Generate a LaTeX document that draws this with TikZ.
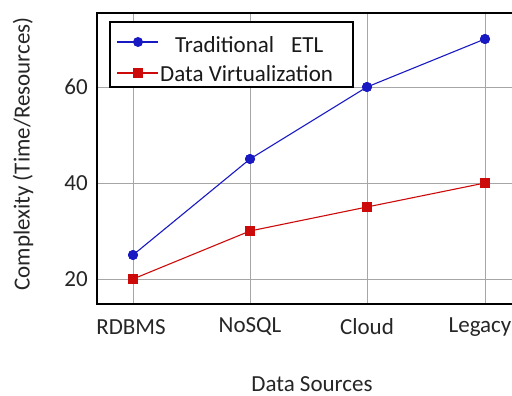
\documentclass[tikz,border=0pt]{standalone}
\usepackage{fontspec}
\setmainfont{Carlito}
\begin{document}
\begin{tikzpicture}[x=1pt,y=-1pt,
  gridline/.style={draw=black!35,line width=0.8pt},
  axisframe/.style={draw=black,line width=1.6pt},
  etlline/.style={draw=etlblue,line width=1.1pt},
  dvline/.style={draw=dvred,line width=1.1pt},
  etlmark/.style={circle,fill=etlblue,inner sep=0pt,minimum size=10pt},
  dvmark/.style={rectangle,fill=dvred,inner sep=0pt,minimum size=10pt},
  ticklabel/.style={font=\fontsize{23}{26}\selectfont,text=black!85,inner sep=0pt},
  axislabel/.style={font=\fontsize{23}{26}\selectfont,text=black!85,inner sep=0pt},
  legendtext/.style={font=\fontsize{23}{26}\selectfont,anchor=west,text=black!90,inner sep=0pt}]
\definecolor{etlblue}{RGB}{25,25,195}
\definecolor{dvred}{RGB}{205,10,10}
\useasboundingbox (0,0) rectangle (512,396);
\fill[white] (0,0) rectangle (512,396);

% value -> vertical position: y = 279 - (v-20)*4.8 ; columns at 133,250,367,485
% grid
\foreach \xx in {133,250,367,485} \draw[gridline] (\xx,13) -- (\xx,304);
\foreach \yy in {87,183,279} \draw[gridline] (97,\yy) -- (512,\yy);

% frame (right side runs past the page edge)
\draw[axisframe] (530,13) -- (97,13) -- (97,304) -- (530,304);

% tick labels
\node[ticklabel,anchor=east] (y60) at (88,87) {60};
\node[ticklabel,anchor=east] (y40) at (88,183) {40};
\node[ticklabel,anchor=east] (y20) at (88,279) {20};
\node[ticklabel] (xr) at (131,327) {RDBMS};
\node[ticklabel] (xn) at (250,327) {NoSQL};
\node[ticklabel] (xc) at (367,327) {Cloud};
\node[ticklabel] (xl) at (480,327) {Legacy};

% axis titles
\node[axislabel,rotate=90] (ytitle) at (23,154) {Complexity (Time/Resources)};
\node[axislabel] (xtitle) at (312,384) {Data Sources};

% Traditional ETL series
\node[etlmark] (e1) at (133,255) {};
\node[etlmark] (e2) at (250,159) {};
\node[etlmark] (e3) at (367,87) {};
\node[etlmark] (e4) at (485,39) {};
\draw[etlline] (e1.center) -- (e2.center) -- (e3.center) -- (e4.center);
\foreach \n in {e1,e2,e3,e4} \node[etlmark] at (\n) {};

% Data Virtualization series
\node[dvmark] (d1) at (133,279) {};
\node[dvmark] (d2) at (250,231) {};
\node[dvmark] (d3) at (367,207) {};
\node[dvmark] (d4) at (485,183) {};
\draw[dvline] (d1.center) -- (d2.center) -- (d3.center) -- (d4.center);
\foreach \n in {d1,d2,d3,d4} \node[dvmark] at (\n) {};

% legend
\draw[draw=black,line width=1.4pt,fill=white] (110,22) rectangle (353,87);
\coordinate (la) at (117,42);
\coordinate (lb) at (158,42);
\draw[etlline] (la) -- (lb);
\node[etlmark] (lm1) at (138,42) {};
\node[legendtext] (lt1) at (175,45) {Traditional\hspace{17pt}ETL};
\coordinate (lc) at (117,73);
\coordinate (ld) at (158,73);
\draw[dvline] (lc) -- (ld);
\node[dvmark] (lm2) at (138,73) {};
\node[legendtext] (lt2) at (160,74) {Data Virtualization};
\end{tikzpicture}
\end{document}
